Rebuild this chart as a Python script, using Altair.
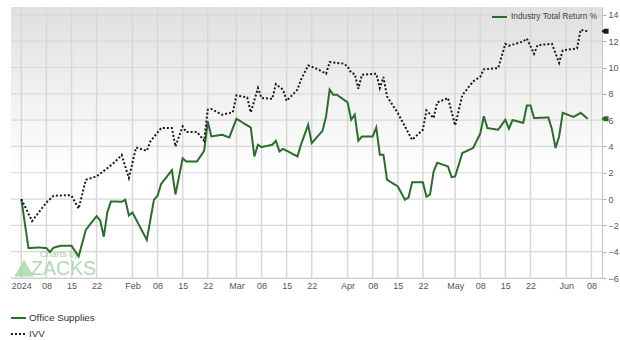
import altair as alt
import pandas as pd

# ---------------- data ----------------
os_dates = [
    "2024-01-01", "2024-01-03", "2024-01-06", "2024-01-08", "2024-01-09", "2024-01-10",
    "2024-01-12", "2024-01-15", "2024-01-17", "2024-01-19", "2024-01-22", "2024-01-23",
    "2024-01-24", "2024-01-25", "2024-01-26", "2024-01-29", "2024-01-30", "2024-01-31",
    "2024-02-01", "2024-02-05", "2024-02-07", "2024-02-08", "2024-02-09", "2024-02-12",
    "2024-02-13", "2024-02-15", "2024-02-16", "2024-02-19", "2024-02-21", "2024-02-22",
    "2024-02-23", "2024-02-26", "2024-02-28", "2024-03-01", "2024-03-05", "2024-03-06",
    "2024-03-07", "2024-03-08", "2024-03-11", "2024-03-12", "2024-03-13", "2024-03-14",
    "2024-03-18", "2024-03-19", "2024-03-21", "2024-03-22", "2024-03-25", "2024-03-26",
    "2024-03-27", "2024-03-28", "2024-03-29", "2024-04-01", "2024-04-02", "2024-04-03",
    "2024-04-04", "2024-04-05", "2024-04-08", "2024-04-09", "2024-04-10", "2024-04-11",
    "2024-04-12", "2024-04-15", "2024-04-17", "2024-04-18", "2024-04-19", "2024-04-22",
    "2024-04-23", "2024-04-24", "2024-04-25", "2024-04-26", "2024-04-29", "2024-04-30",
    "2024-05-01", "2024-05-03", "2024-05-06", "2024-05-08", "2024-05-09", "2024-05-10",
    "2024-05-13", "2024-05-15", "2024-05-16", "2024-05-17", "2024-05-20", "2024-05-21",
    "2024-05-22", "2024-05-23", "2024-05-27", "2024-05-28", "2024-05-29", "2024-05-30",
    "2024-05-31", "2024-06-03", "2024-06-05", "2024-06-07",
]
os_values = [
    0.0, -3.73, -3.68, -3.73, -4.03, -3.7,
    -3.55, -3.55, -4.36, -2.33, -1.3, -1.62,
    -2.86, -1.0, -0.18, -0.2, -0.05, -1.25,
    -1.02, -3.1, -0.05, 0.25, 1.15, 2.2,
    0.35, 3.1, 2.86, 2.86, 3.67, 5.9,
    4.76, 4.89, 4.68, 6.1, 5.44, 3.24,
    4.13, 3.95, 4.13, 4.43, 3.62, 3.82,
    3.24, 4.13, 5.65, 4.26, 5.19, 6.28,
    8.31, 7.93, 7.93, 7.35, 6.03, 6.41,
    4.43, 4.76, 4.76, 5.44, 3.37, 3.37,
    1.47, 0.96, -0.05, 0.12, 1.28, 1.28,
    0.18, 0.36, 2.1, 2.76, 2.48, 1.67,
    1.72, 3.5, 3.88, 4.97, 6.3, 5.4,
    5.27, 6.03, 5.35, 6.0, 5.8, 7.12,
    7.12, 6.16, 6.2, 5.3, 3.88, 4.76,
    6.56, 6.24, 6.56, 6.1,
]

ivv_dates = [
    "2024-01-01", "2024-01-04", "2024-01-08", "2024-01-10", "2024-01-14", "2024-01-15",
    "2024-01-17", "2024-01-19", "2024-01-22", "2024-01-25", "2024-01-27", "2024-01-29",
    "2024-01-31", "2024-02-02", "2024-02-05", "2024-02-06", "2024-02-09", "2024-02-12",
    "2024-02-13", "2024-02-15", "2024-02-16", "2024-02-19", "2024-02-21", "2024-02-22",
    "2024-02-23", "2024-02-26", "2024-02-29", "2024-03-01", "2024-03-04", "2024-03-05",
    "2024-03-07", "2024-03-08", "2024-03-11", "2024-03-12", "2024-03-14", "2024-03-15",
    "2024-03-18", "2024-03-19", "2024-03-21", "2024-03-23", "2024-03-26", "2024-03-27",
    "2024-03-31", "2024-04-01", "2024-04-02", "2024-04-03", "2024-04-04", "2024-04-05",
    "2024-04-09", "2024-04-10", "2024-04-11", "2024-04-12", "2024-04-15", "2024-04-17",
    "2024-04-19", "2024-04-22", "2024-04-23", "2024-04-25", "2024-04-26", "2024-04-29",
    "2024-05-01", "2024-05-03", "2024-05-06", "2024-05-08", "2024-05-09", "2024-05-13",
    "2024-05-15", "2024-05-16", "2024-05-20", "2024-05-21", "2024-05-23", "2024-05-24",
    "2024-05-28", "2024-05-30", "2024-05-31", "2024-06-04", "2024-06-05", "2024-06-07",
]
ivv_values = [
    0.0, -1.67, -0.26, 0.25, 0.3, 0.25,
    -0.72, 1.47, 1.72, 2.35, 2.8, 3.35,
    1.6, 3.92, 3.67, 4.38, 5.4, 5.4,
    4.0, 5.52, 5.1, 5.1, 4.43, 6.79,
    6.85, 6.41, 6.6, 7.88, 7.73, 6.59,
    8.44, 7.68, 7.62, 8.74, 8.31, 7.47,
    8.31, 9.07, 10.16, 9.96, 9.53, 10.42,
    10.29, 10.08, 9.6, 9.5, 8.39, 9.45,
    9.53, 8.44, 9.28, 7.8, 6.54, 5.52,
    4.5, 5.27, 6.74, 6.16, 7.35, 7.68,
    5.6, 7.9, 8.94, 9.3, 9.86, 9.96,
    11.8, 11.66, 11.98, 12.2, 11.04, 11.7,
    11.8, 10.36, 11.3, 11.45, 12.87, 12.75,
]

series_names = ["Office Supplies", "IVV"]
series_colors = ["#2a6e2a", "#1a1a1a"]
legend_title = "Industry Total Return %"

y_ticks = [-6, -4, -2, 0, 2, 4, 6, 8, 10, 12, 14]
x_tick_dates = [
    "2024-01-01", "2024-01-08", "2024-01-15", "2024-01-22",
    "2024-02-01", "2024-02-08", "2024-02-15", "2024-02-22",
    "2024-03-01", "2024-03-08", "2024-03-15", "2024-03-22",
    "2024-04-01", "2024-04-08", "2024-04-15", "2024-04-22",
    "2024-05-01", "2024-05-08", "2024-05-15", "2024-05-22",
    "2024-06-01", "2024-06-08",
]

# ---------------- chart ----------------
W, H = 591, 271
FONT = "Liberation Sans"

lines_df = pd.concat([
    pd.DataFrame({"date": os_dates, "value": os_values, "series": series_names[0]}),
    pd.DataFrame({"date": ivv_dates, "value": ivv_values, "series": series_names[1]}),
], ignore_index=True)
last_df = pd.DataFrame({
    "series": series_names,
    "value": [os_values[-1], ivv_values[-1]],
})
xt_df = pd.DataFrame({"date": x_tick_dates})
yt_df = pd.DataFrame({"value": y_ticks})
one = pd.DataFrame({"a": [0]})

x_scale = alt.Scale(
    type="utc",
    domain=[alt.DateTime(year=2023, month=12, date=29, hours=3, utc=True),
            alt.DateTime(year=2024, month=6, date=10, hours=23, utc=True)],
)
y_scale = alt.Scale(domain=[-6, 14.6], nice=False, zero=False)
color_scale = alt.Scale(domain=series_names, range=series_colors)
dash_scale = alt.Scale(domain=series_names, range=[[1, 0], [2, 2]])

label_expr = (
    "utcFormat(datum.value,'%d')=='01' ? "
    "(utcFormat(datum.value,'%m')=='01' ? utcFormat(datum.value,'%Y') : utcFormat(datum.value,'%b')) "
    ": utcFormat(datum.value,'%d')"
)

x_axis = alt.Axis(
    values=[alt.DateTime(year=int(d[:4]), month=int(d[5:7]), date=int(d[8:10]), utc=True)
            for d in x_tick_dates],
    labelExpr=label_expr, grid=False, ticks=False, labelPadding=3,
    labelFont=FONT, labelFontSize=9, labelColor="#555555",
    domainColor="#c4c4c4", labelFlush=False, labelOverlap=False, title=None,
)
y_axis = alt.Axis(
    orient="right", values=y_ticks, grid=False, tickSize=4, tickColor="#b0b0b0",
    labelPadding=2, labelFont=FONT, labelFontSize=9, labelColor="#555555",
    domainColor="#c4c4c4", labelFlush=False, title=None,
)
X = alt.X("date:T", scale=x_scale, axis=x_axis)
Y = alt.Y("value:Q", scale=y_scale, axis=y_axis)

bg = alt.Chart(one).mark_rect(
    color=alt.LinearGradient(
        gradient="linear",
        stops=[alt.GradientStop(color="#e0e0e0", offset=0),
               alt.GradientStop(color="#f2f2f2", offset=0.35),
               alt.GradientStop(color="#ffffff", offset=0.62)],
        x1=0, x2=0, y1=0, y2=1,
    )
).encode(x=alt.value(0), x2=alt.value(W), y=alt.value(0), y2=alt.value(H))

vgrid = alt.Chart(xt_df).mark_rule(color="#d8d8d8", strokeWidth=1.5).encode(x=X)
hgrid = alt.Chart(yt_df).mark_rule(color="#d8d8d8", strokeWidth=1.2).encode(y=Y)

lines = alt.Chart(lines_df).mark_line(strokeWidth=2).encode(
    x=X, y=Y,
    color=alt.Color("series:N", scale=color_scale, legend=None),
    strokeDash=alt.StrokeDash("series:N", scale=dash_scale, legend=None),
    detail="series:N",
)

tag_shape = "M -1 0 L -0.2 -0.7 L 1 -0.7 L 1 0.7 L -0.2 0.7 Z"
markers = alt.Chart(last_df).mark_point(shape=tag_shape, filled=True, size=50, opacity=1).encode(
    x=alt.value(W + 3),
    y=Y,
    color=alt.Color("series:N", scale=color_scale, legend=None),
)

# top-right legend
top_sw = alt.Chart(one).mark_rule(color=series_colors[0], strokeWidth=2).encode(
    x=alt.value(481), x2=alt.value(496), y=alt.value(10)
)
top_txt = alt.Chart(pd.DataFrame({"t": [legend_title]})).mark_text(
    align="left", baseline="middle", font=FONT, fontSize=8.3, color="#444444"
).encode(x=alt.value(500), y=alt.value(10), text="t:N")

# bottom legend
bot_sw1 = alt.Chart(one).mark_rule(color=series_colors[0], strokeWidth=2).encode(
    x=alt.value(0), x2=alt.value(15), y=alt.value(311)
)
bot_sw2 = alt.Chart(one).mark_rule(color=series_colors[1], strokeWidth=2, strokeDash=[2, 2]).encode(
    x=alt.value(0), x2=alt.value(15), y=alt.value(327)
)
bot_txt1 = alt.Chart(pd.DataFrame({"t": [series_names[0]]})).mark_text(
    align="left", baseline="middle", font=FONT, fontSize=9.8, color="#333333"
).encode(x=alt.value(18), y=alt.value(311), text="t:N")
bot_txt2 = alt.Chart(pd.DataFrame({"t": [series_names[1]]})).mark_text(
    align="left", baseline="middle", font=FONT, fontSize=9.8, color="#333333"
).encode(x=alt.value(18), y=alt.value(327), text="t:N")

# watermark
wm_tri = alt.Chart(one).mark_point(
    shape="triangle-up", filled=True, size=380, color="#9fd49f", opacity=0.75
).encode(x=alt.value(13), y=alt.value(261))
wm_small = alt.Chart(pd.DataFrame({"t": ["Charts by"]})).mark_text(
    align="left", baseline="alphabetic", font=FONT, fontSize=9, color="#a8cfa8"
).encode(x=alt.value(29), y=alt.value(250), text="t:N")
wm_big = alt.Chart(pd.DataFrame({"t": ["ZACKS"]})).mark_text(
    align="left", baseline="alphabetic", font=FONT, fontSize=19.5, color="#b3d8b3"
).encode(x=alt.value(20), y=alt.value(268), text="t:N")

chart = alt.layer(
    bg, vgrid, hgrid, wm_tri, wm_small, wm_big, lines, markers,
    top_sw, top_txt, bot_sw1, bot_sw2, bot_txt1, bot_txt2,
).properties(
    width=W, height=H,
    padding={"left": 11, "top": 7, "right": 18, "bottom": 62},
    autosize=alt.AutoSizeParams(type="none"),
    background="#ffffff",
).configure_view(stroke="#d4d4d4", strokeWidth=1)

chart.save("out.html", embed_options={"renderer": "svg", "actions": False})
